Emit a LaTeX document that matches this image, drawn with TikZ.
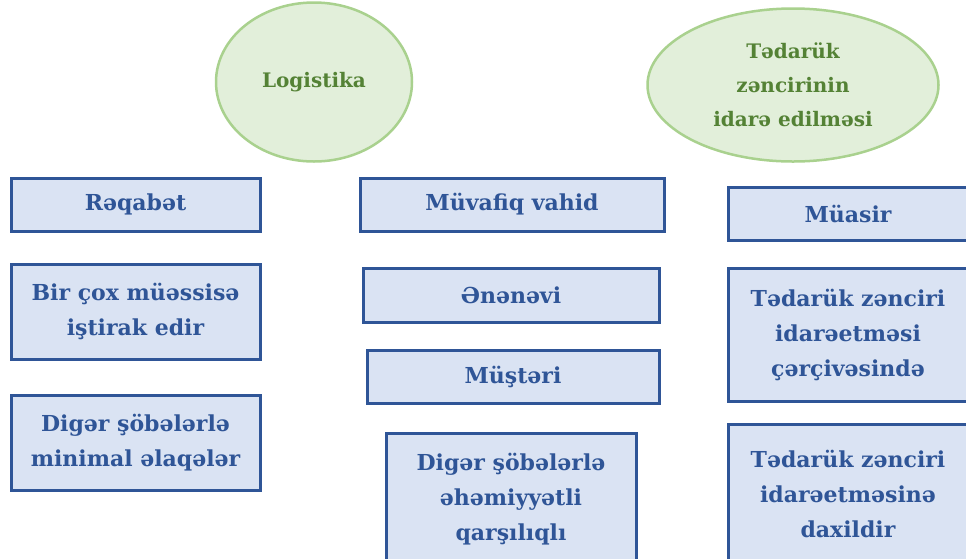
\documentclass[tikz,border=0pt]{standalone}
\usepackage{fontspec}
\setmainfont{DejaVu Serif}
\usetikzlibrary{shapes.geometric}

\definecolor{boxfill}{HTML}{DAE3F3}
\definecolor{boxedge}{HTML}{2F5597}
\definecolor{boxtext}{HTML}{2F5597}
\definecolor{ovalfill}{HTML}{E2EFDA}
\definecolor{ovaledge}{HTML}{A9D18E}
\definecolor{ovaltext}{HTML}{548235}

\tikzset{
  box/.style={draw=boxedge, line width=3pt, fill=boxfill, text=boxtext,
    font=\fontsize{22}{35}\selectfont\bfseries, align=center, inner sep=0pt},
  oval/.style={ellipse, draw=ovaledge, line width=2.5pt, fill=ovalfill, text=ovaltext,
    font=\fontsize{20}{34}\selectfont\bfseries, align=center, inner sep=0pt}
}

\begin{document}
\begin{tikzpicture}[x=1pt, y=-1pt]
\useasboundingbox (0,0) rectangle (966,558);
\clip (0,0) rectangle (966,558);

% Ovals
\node[oval, minimum width=196, minimum height=159] (logistika) at (314,82) {Logistika};
\node[oval, minimum width=291, minimum height=153] (tedarukidare) at (793,85) {Tədarük\\zəncirinin\\idarə edilməsi};

% Left column
\node[box, minimum width=249, minimum height=53] (reqabet) at (135.5,204.5) {Rəqabət};
\node[box, minimum width=249, minimum height=95] (muessise) at (135.5,311.5) {Bir çox müəssisə\\iştirak edir};
\node[box, minimum width=249, minimum height=95] (minimal) at (135.5,442.5) {Digər şöbələrlə\\minimal əlaqələr};

% Middle column
\node[box, minimum width=304, minimum height=53] (muvafiq) at (512,204.5) {Müvafiq vahid};
\node[box, minimum width=296, minimum height=54] (enenevi) at (511,295) {Ənənəvi};
\node[box, minimum width=292, minimum height=53] (musteri) at (513,376.5) {Müştəri};
\node[box, minimum width=250, minimum height=132] (qarsiliqli) at (511,499) {Digər şöbələrlə\\əhəmiyyətli\\qarşılıqlı};

% Right column
\node[box, minimum width=240, minimum height=53] (muasir) at (848,213.5) {Müasir};
\node[box, minimum width=240, minimum height=133] (cercive) at (848,334.5) {Tədarük zənciri\\idarəetməsi\\çərçivəsində};
\node[box, minimum width=240, minimum height=140] (daxil) at (848,494) {Tədarük zənciri\\idarəetməsinə\\daxildir};
\end{tikzpicture}
\end{document}
